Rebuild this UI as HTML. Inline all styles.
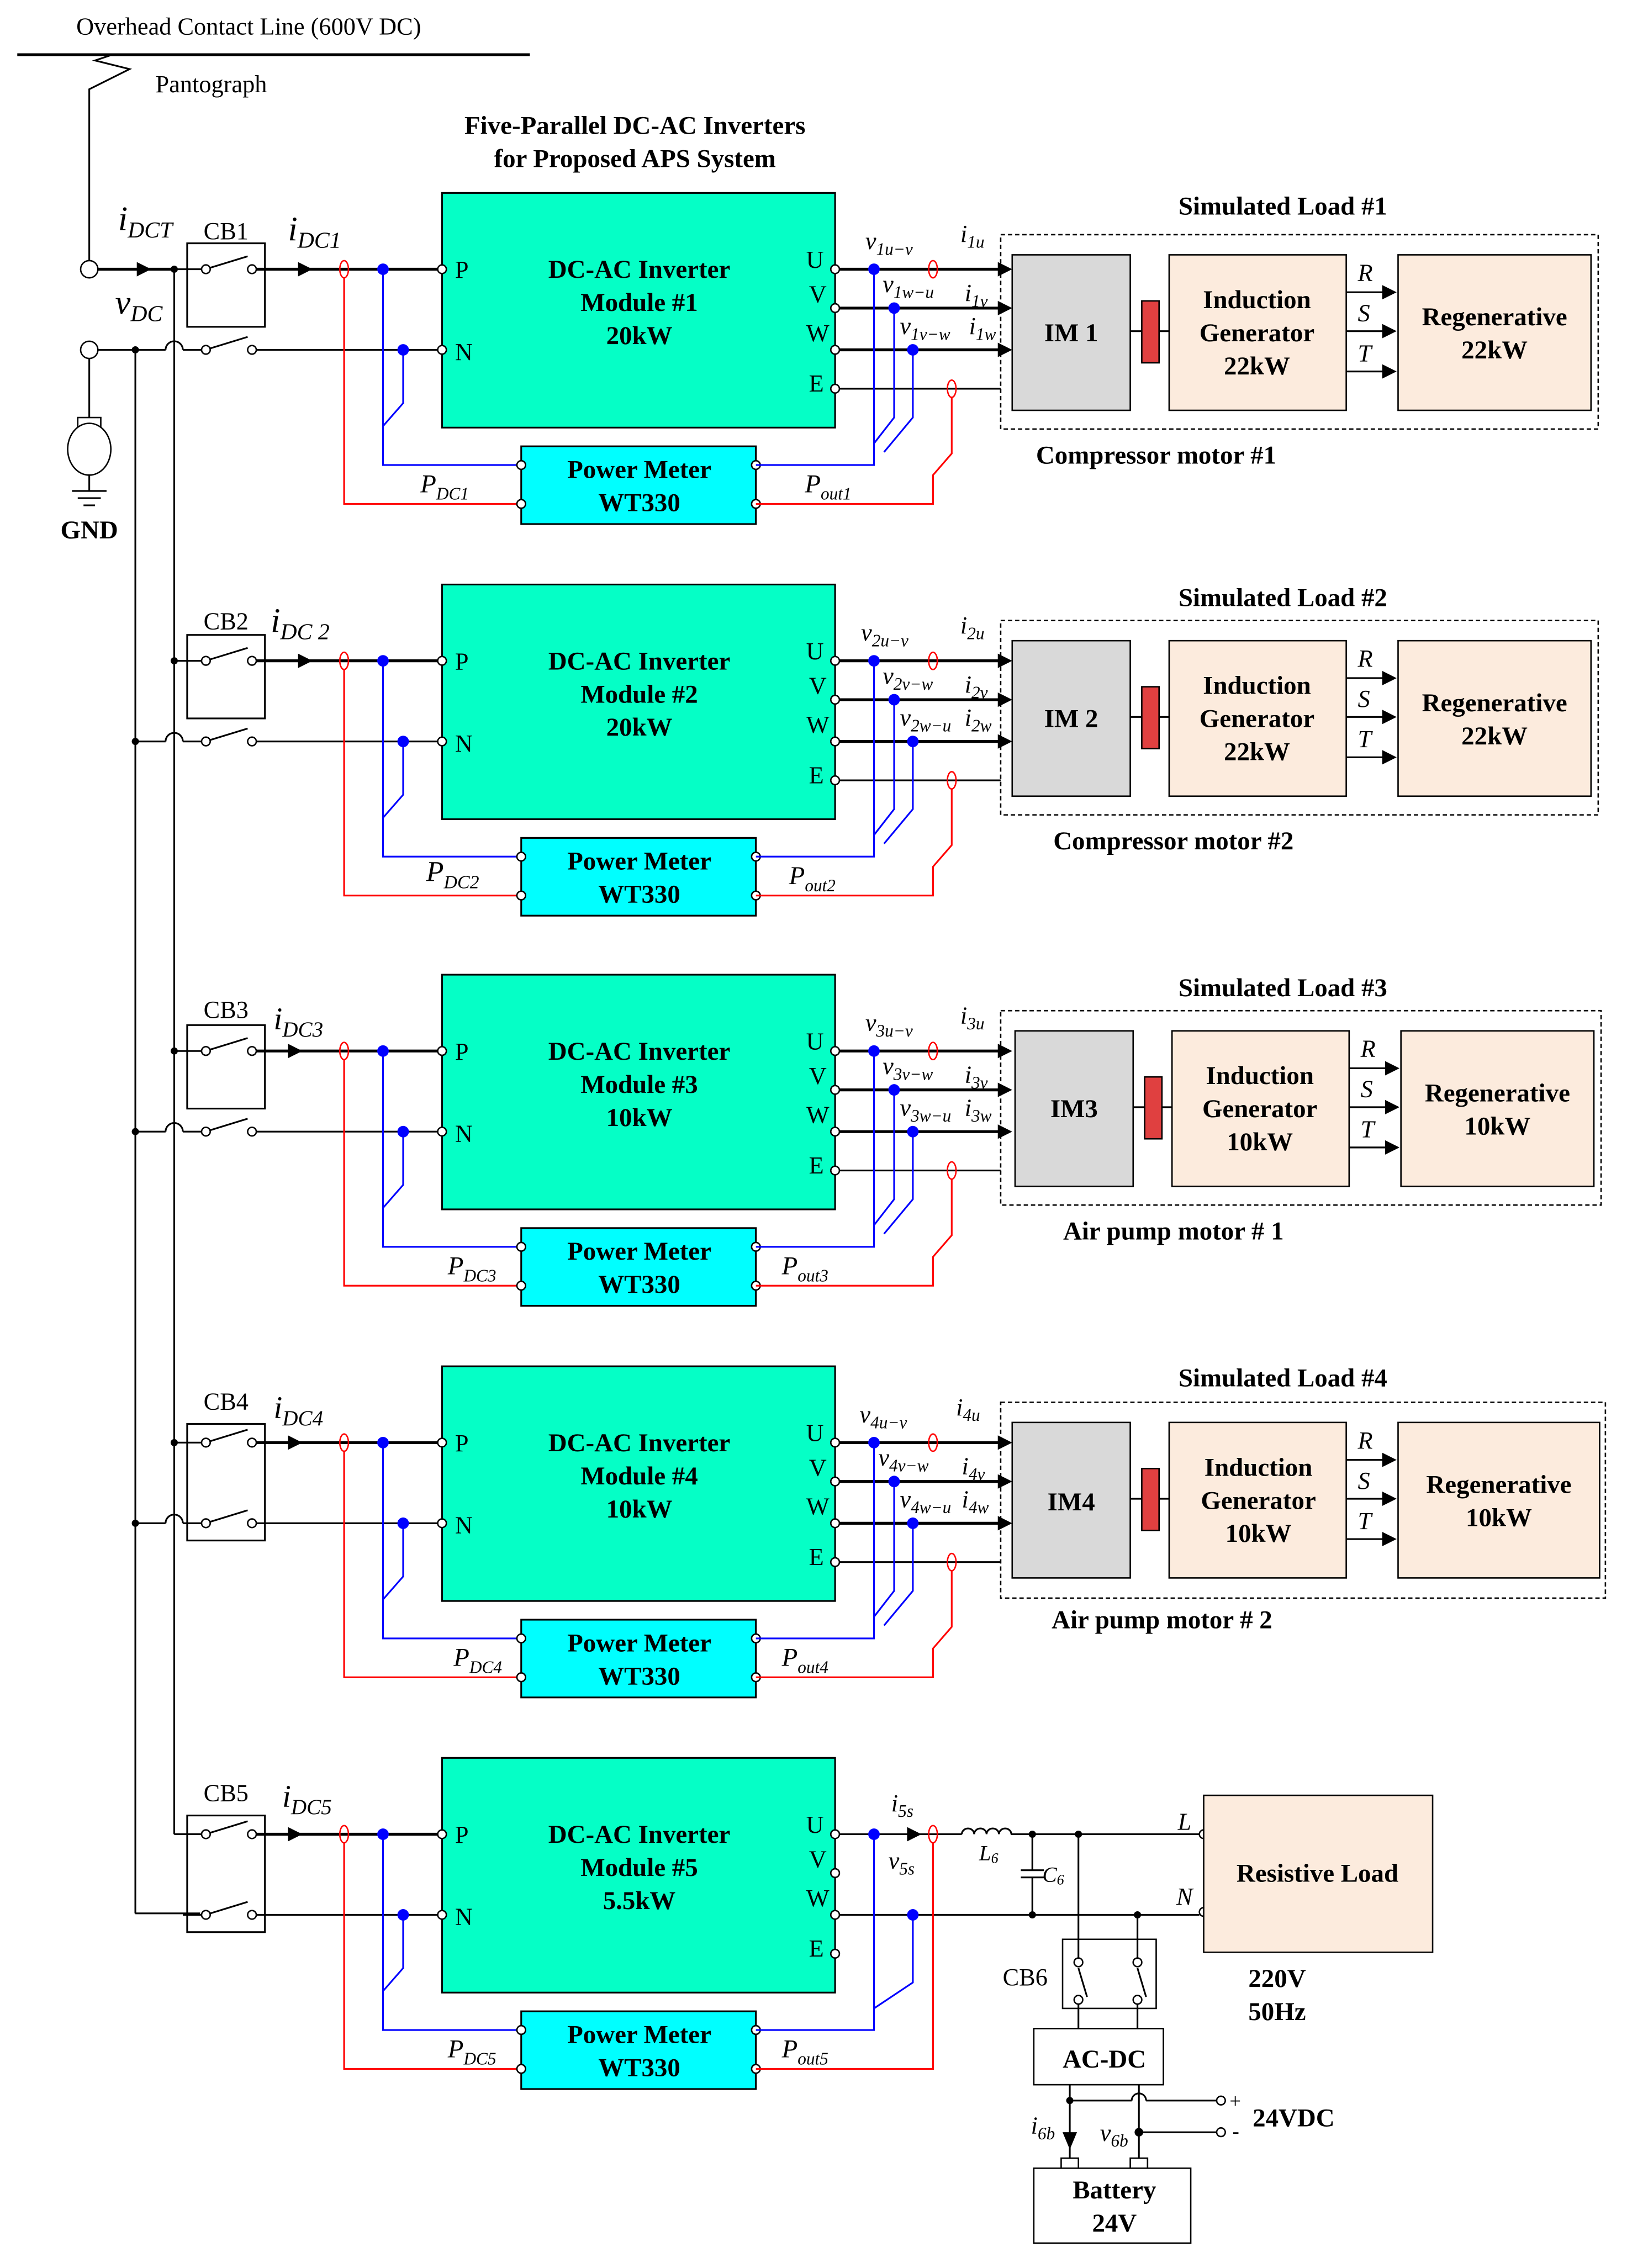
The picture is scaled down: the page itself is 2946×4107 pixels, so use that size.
<!DOCTYPE html>
<html><head><meta charset="utf-8"><style>
html,body{margin:0;padding:0;background:#fff;}
svg{display:block;}
text{font-family:"Liberation Serif",serif;fill:#000;}
.b{font-weight:bold;font-size:18px;text-anchor:middle;}
.bs{font-weight:bold;font-size:18px;text-anchor:start;}
.it{font-style:italic;}
.k{stroke:#000;stroke-width:1.2;fill:none;}
.kt{stroke:#000;stroke-width:2;fill:none;}
.bl{stroke:#0000ff;stroke-width:1.2;fill:none;}
.rd{stroke:#ff0000;stroke-width:1.2;fill:none;}
.tc{fill:#fff;stroke:#000;stroke-width:1;}
</style></head><body>
<svg width="2946" height="4107" viewBox="0 0 1130 1575.3" preserveAspectRatio="none" xmlns="http://www.w3.org/2000/svg">
<defs>
<g id="arrR"><polygon points="0,-5 10,0 0,5" fill="#000"/></g>
</defs>
<!-- top -->
<line x1="12" y1="38" x2="368" y2="38" class="kt"/>
<text x="53" y="24" font-size="17">Overhead Contact Line (600V DC)</text>
<polyline points="62,181 62,62 90,48 66,42 78,38" class="k"/>
<text x="108" y="64" font-size="17">Pantograph</text>
<text x="441" y="93" class="b">Five-Parallel DC-AC Inverters</text>
<text x="441" y="116" class="b">for Proposed APS System</text>
<circle cx="62" cy="187" r="6" class="tc"/>
<circle cx="62" cy="243" r="6" class="tc"/>
<line x1="62" y1="249" x2="62" y2="293" class="k"/>
<rect x="54" y="290" width="16" height="10" class="tc"/>
<ellipse cx="62" cy="312" rx="15" ry="18" class="tc"/>
<line x1="62" y1="330" x2="62" y2="341" class="k"/>
<line x1="50" y1="341" x2="74" y2="341" class="k"/>
<line x1="54" y1="346" x2="70" y2="346" class="k"/>
<line x1="58" y1="351" x2="66" y2="351" class="k"/>
<text x="62" y="374" class="b">GND</text>
<text x="82" y="160" font-size="24" class="it">i<tspan font-size="16" dy="5">DCT</tspan></text>
<text x="80" y="218" font-size="24" class="it">v<tspan font-size="16" dy="5">DC</tspan></text>
<line x1="68" y1="187" x2="121" y2="187" class="kt"/>
<use href="#arrR" x="95" y="187"/>
<line x1="68" y1="243" x2="115" y2="243" class="k"/>
<!-- buses -->
<line x1="121" y1="187" x2="121" y2="1274" class="k"/>
<line x1="121" y1="1274" x2="139" y2="1274" class="k"/>
<line x1="94" y1="243" x2="94" y2="1329" class="k"/>
<line x1="94" y1="1329" x2="139" y2="1329" class="k"/>
<circle cx="121" cy="187" r="2.5"/><circle cx="94" cy="243" r="2.5"/>
<circle cx="121" cy="459" r="2.5"/><circle cx="94" cy="515" r="2.5"/>
<circle cx="121" cy="730" r="2.5"/><circle cx="94" cy="786" r="2.5"/>
<circle cx="121" cy="1002" r="2.5"/><circle cx="94" cy="1058" r="2.5"/>

<!-- SECTION 1 -->
<g id="s1">
<path d="M115,243 A6,6 0 0 1 127,243" class="k"/>
<line x1="127" y1="243" x2="140" y2="243" class="k"/>
<line x1="121" y1="187" x2="140" y2="187" class="k"/>
<rect x="130" y="169" width="54" height="58" class="k"/>
<circle cx="143" cy="187" r="3" class="tc"/><circle cx="175" cy="187" r="3" class="tc"/><line x1="146" y1="186" x2="172" y2="178" class="k"/>
<circle cx="143" cy="243" r="3" class="tc"/><circle cx="175" cy="243" r="3" class="tc"/><line x1="146" y1="242" x2="172" y2="234" class="k"/>
<line x1="178" y1="187" x2="304" y2="187" class="kt"/>
<line x1="178" y1="243" x2="304" y2="243" class="k"/>
<use href="#arrR" x="207" y="187"/>
<rect x="307" y="134" width="273" height="163" fill="#05FFC6" stroke="#000" stroke-width="1.2"/>
<text x="444" y="193" class="b">DC-AC Inverter</text>
<text x="444" y="216" class="b">Module #1</text>
<text x="444" y="239" class="b">20kW</text>
<text x="316" y="193" font-size="17">P</text><text x="316" y="250" font-size="17">N</text>
<text x="566" y="186" font-size="17" text-anchor="middle">U</text><text x="568" y="210" font-size="17" text-anchor="middle">V</text><text x="568" y="237" font-size="17" text-anchor="middle">W</text><text x="567" y="272" font-size="17" text-anchor="middle">E</text>
<ellipse cx="239" cy="187" rx="3" ry="6" fill="none" stroke="#f00"/>
<circle cx="266" cy="187" r="4" fill="#00f"/><circle cx="280" cy="243" r="4" fill="#00f"/>
<polyline points="280,243 280,280 266,296" class="bl"/>
<polyline points="266,187 266,323 362,323" class="bl"/>
<polyline points="239,193 239,350 362,350" class="rd"/>
<rect x="362" y="310" width="163" height="54" fill="#00FFFF" stroke="#000" stroke-width="1.2"/>
<text x="444" y="332" class="b">Power Meter</text><text x="444" y="355" class="b">WT330</text>
<circle cx="362" cy="323" r="3" class="tc"/><circle cx="362" cy="350" r="3" class="tc"/><circle cx="525" cy="323" r="3" class="tc"/><circle cx="525" cy="350" r="3" class="tc"/>
<text x="292" y="342" font-size="18" class="it">P<tspan font-size="12" dy="5">DC1</tspan></text>
<text x="559" y="342" font-size="18" class="it">P<tspan font-size="12" dy="5">out1</tspan></text>
<line x1="583" y1="187" x2="695" y2="187" class="kt"/>
<line x1="583" y1="214" x2="695" y2="214" class="kt"/>
<line x1="583" y1="243" x2="695" y2="243" class="kt"/>
<line x1="583" y1="270" x2="695" y2="270" class="k"/>
<circle cx="307" cy="187" r="3" class="tc"/><circle cx="307" cy="243" r="3" class="tc"/>
<circle cx="580" cy="187" r="3" class="tc"/><circle cx="580" cy="214" r="3" class="tc"/><circle cx="580" cy="243" r="3" class="tc"/><circle cx="580" cy="270" r="3" class="tc"/>
<circle cx="607" cy="187" r="4" fill="#00f"/><circle cx="621" cy="214" r="4" fill="#00f"/><circle cx="634" cy="243" r="4" fill="#00f"/>
<polyline points="607,187 607,323 525,323" class="bl"/>
<polyline points="621,214 621,290 607,308" class="bl"/>
<polyline points="634,243 634,290 614,314" class="bl"/>
<ellipse cx="648" cy="187" rx="3" ry="6" fill="none" stroke="#f00"/>
<ellipse cx="661" cy="270" rx="3" ry="6" fill="none" stroke="#f00"/>
<polyline points="661,276 661,315 648,330 648,350 525,350" class="rd"/>
<text x="601" y="173" font-size="17" class="it">v<tspan font-size="12" dy="4">1u−v</tspan></text>
<text x="613" y="203" font-size="17" class="it">v<tspan font-size="12" dy="4">1w−u</tspan></text>
<text x="625" y="232" font-size="17" class="it">v<tspan font-size="12" dy="4">1v−w</tspan></text>
<text x="667" y="168" font-size="17" class="it">i<tspan font-size="12" dy="4">1u</tspan></text>
<text x="670" y="209" font-size="17" class="it">i<tspan font-size="12" dy="4">1v</tspan></text>
<text x="673" y="232" font-size="17" class="it">i<tspan font-size="12" dy="4">1w</tspan></text>
<use href="#arrR" x="693" y="187"/><use href="#arrR" x="693" y="214"/><use href="#arrR" x="693" y="243"/>
<rect x="695" y="163" width="415" height="135" fill="none" stroke="#000" stroke-dasharray="3,2"/>
<rect x="703" y="177" width="82" height="108" fill="#D9D9D9" stroke="#000"/>
<text x="744" y="237" class="b">IM 1</text>
<line x1="785" y1="230" x2="812" y2="230" class="k"/>
<rect x="793" y="209" width="12" height="43" fill="#E04040" stroke="#000"/>
<rect x="812" y="177" width="123" height="108" fill="#FCEBDD" stroke="#000"/>
<text x="873" y="214" class="b">Induction</text><text x="873" y="237" class="b">Generator</text><text x="873" y="260" class="b">22kW</text>
<line x1="935" y1="203" x2="962" y2="203" class="k"/><use href="#arrR" x="960" y="203"/>
<line x1="935" y1="230" x2="962" y2="230" class="k"/><use href="#arrR" x="960" y="230"/>
<line x1="935" y1="258" x2="962" y2="258" class="k"/><use href="#arrR" x="960" y="258"/>
<text x="943" y="195" font-size="17" class="it">R</text><text x="943" y="223" font-size="17" class="it">S</text><text x="943" y="251" font-size="17" class="it">T</text>
<rect x="971" y="177" width="134" height="108" fill="#FCEBDD" stroke="#000"/>
<text x="1038" y="226" class="b">Regenerative</text><text x="1038" y="249" class="b">22kW</text>
<text x="891" y="149" class="b">Simulated Load #1</text>
<text x="803" y="322" class="b">Compressor motor #1</text>
</g>
<text x="157" y="166" font-size="17" text-anchor="middle">CB1</text>
<text x="200" y="167" font-size="24" class="it">i<tspan font-size="16" dy="5">DC1</tspan></text>

<!-- SECTION 2 -->
<g transform="translate(0,272)">
<path d="M115,243 A6,6 0 0 1 127,243" class="k"/>
<line x1="94" y1="243" x2="115" y2="243" class="k"/>
<line x1="127" y1="243" x2="140" y2="243" class="k"/>
<line x1="121" y1="187" x2="140" y2="187" class="k"/>
<rect x="130" y="169" width="54" height="58" class="k"/>
<circle cx="143" cy="187" r="3" class="tc"/><circle cx="175" cy="187" r="3" class="tc"/><line x1="146" y1="186" x2="172" y2="178" class="k"/>
<circle cx="143" cy="243" r="3" class="tc"/><circle cx="175" cy="243" r="3" class="tc"/><line x1="146" y1="242" x2="172" y2="234" class="k"/>
<line x1="178" y1="187" x2="304" y2="187" class="kt"/>
<line x1="178" y1="243" x2="304" y2="243" class="k"/>
<use href="#arrR" x="207" y="187"/>
<text x="157" y="165" font-size="17" text-anchor="middle">CB2</text>
<text x="188" y="167" font-size="24" class="it">i<tspan font-size="16" dy="5">DC 2</tspan></text>
<rect x="307" y="134" width="273" height="163" fill="#05FFC6" stroke="#000" stroke-width="1.2"/>
<text x="444" y="193" class="b">DC-AC Inverter</text>
<text x="444" y="216" class="b">Module #2</text>
<text x="444" y="239" class="b">20kW</text>
<text x="316" y="193" font-size="17">P</text><text x="316" y="250" font-size="17">N</text>
<text x="566" y="186" font-size="17" text-anchor="middle">U</text><text x="568" y="210" font-size="17" text-anchor="middle">V</text><text x="568" y="237" font-size="17" text-anchor="middle">W</text><text x="567" y="272" font-size="17" text-anchor="middle">E</text>
<ellipse cx="239" cy="187" rx="3" ry="6" fill="none" stroke="#f00"/>
<circle cx="266" cy="187" r="4" fill="#00f"/><circle cx="280" cy="243" r="4" fill="#00f"/>
<polyline points="280,243 280,280 266,296" class="bl"/>
<polyline points="266,187 266,323 362,323" class="bl"/>
<polyline points="239,193 239,350 362,350" class="rd"/>
<rect x="362" y="310" width="163" height="54" fill="#00FFFF" stroke="#000" stroke-width="1.2"/>
<text x="444" y="332" class="b">Power Meter</text><text x="444" y="355" class="b">WT330</text>
<circle cx="362" cy="323" r="3" class="tc"/><circle cx="362" cy="350" r="3" class="tc"/><circle cx="525" cy="323" r="3" class="tc"/><circle cx="525" cy="350" r="3" class="tc"/>
<text x="296" y="340" font-size="20" class="it">P<tspan font-size="13" dy="5">DC2</tspan></text>
<text x="548" y="342" font-size="18" class="it">P<tspan font-size="12" dy="5">out2</tspan></text>
<line x1="583" y1="187" x2="695" y2="187" class="kt"/>
<line x1="583" y1="214" x2="695" y2="214" class="kt"/>
<line x1="583" y1="243" x2="695" y2="243" class="kt"/>
<line x1="583" y1="270" x2="695" y2="270" class="k"/>
<circle cx="307" cy="187" r="3" class="tc"/><circle cx="307" cy="243" r="3" class="tc"/>
<circle cx="580" cy="187" r="3" class="tc"/><circle cx="580" cy="214" r="3" class="tc"/><circle cx="580" cy="243" r="3" class="tc"/><circle cx="580" cy="270" r="3" class="tc"/>
<circle cx="607" cy="187" r="4" fill="#00f"/><circle cx="621" cy="214" r="4" fill="#00f"/><circle cx="634" cy="243" r="4" fill="#00f"/>
<polyline points="607,187 607,323 525,323" class="bl"/>
<polyline points="621,214 621,290 607,308" class="bl"/>
<polyline points="634,243 634,290 614,314" class="bl"/>
<ellipse cx="648" cy="187" rx="3" ry="6" fill="none" stroke="#f00"/>
<ellipse cx="661" cy="270" rx="3" ry="6" fill="none" stroke="#f00"/>
<polyline points="661,276 661,315 648,330 648,350 525,350" class="rd"/>
<text x="598" y="173" font-size="17" class="it">v<tspan font-size="12" dy="4">2u−v</tspan></text>
<text x="613" y="203" font-size="17" class="it">v<tspan font-size="12" dy="4">2v−w</tspan></text>
<text x="625" y="232" font-size="17" class="it">v<tspan font-size="12" dy="4">2w−u</tspan></text>
<text x="667" y="168" font-size="17" class="it">i<tspan font-size="12" dy="4">2u</tspan></text>
<text x="670" y="209" font-size="17" class="it">i<tspan font-size="12" dy="4">2v</tspan></text>
<text x="670" y="232" font-size="17" class="it">i<tspan font-size="12" dy="4">2w</tspan></text>
<use href="#arrR" x="693" y="187"/><use href="#arrR" x="693" y="214"/><use href="#arrR" x="693" y="243"/>
<rect x="695" y="159" width="415" height="135" fill="none" stroke="#000" stroke-dasharray="3,2"/>
<rect x="703" y="173" width="82" height="108" fill="#D9D9D9" stroke="#000"/>
<text x="744" y="233" class="b">IM 2</text>
<line x1="785" y1="226" x2="812" y2="226" class="k"/>
<rect x="793" y="205" width="12" height="43" fill="#E04040" stroke="#000"/>
<rect x="812" y="173" width="123" height="108" fill="#FCEBDD" stroke="#000"/>
<text x="873" y="210" class="b">Induction</text><text x="873" y="233" class="b">Generator</text><text x="873" y="256" class="b">22kW</text>
<line x1="935" y1="199" x2="962" y2="199" class="k"/><use href="#arrR" x="960" y="199"/>
<line x1="935" y1="226" x2="962" y2="226" class="k"/><use href="#arrR" x="960" y="226"/>
<line x1="935" y1="254" x2="962" y2="254" class="k"/><use href="#arrR" x="960" y="254"/>
<text x="943" y="191" font-size="17" class="it">R</text><text x="943" y="219" font-size="17" class="it">S</text><text x="943" y="247" font-size="17" class="it">T</text>
<rect x="971" y="173" width="134" height="108" fill="#FCEBDD" stroke="#000"/>
<text x="1038" y="222" class="b">Regenerative</text><text x="1038" y="245" class="b">22kW</text>
<text x="891" y="149" class="b">Simulated Load #2</text>
<text x="815" y="318" class="b">Compressor motor #2</text>
</g>

<!-- SECTION 3 -->
<g transform="translate(0,543)">
<path d="M115,243 A6,6 0 0 1 127,243" class="k"/>
<line x1="94" y1="243" x2="115" y2="243" class="k"/>
<line x1="127" y1="243" x2="140" y2="243" class="k"/>
<line x1="121" y1="187" x2="140" y2="187" class="k"/>
<rect x="130" y="169" width="54" height="58" class="k"/>
<circle cx="143" cy="187" r="3" class="tc"/><circle cx="175" cy="187" r="3" class="tc"/><line x1="146" y1="186" x2="172" y2="178" class="k"/>
<circle cx="143" cy="243" r="3" class="tc"/><circle cx="175" cy="243" r="3" class="tc"/><line x1="146" y1="242" x2="172" y2="234" class="k"/>
<line x1="178" y1="187" x2="304" y2="187" class="kt"/>
<line x1="178" y1="243" x2="304" y2="243" class="k"/>
<use href="#arrR" x="200" y="187"/>
<text x="157" y="164" font-size="17" text-anchor="middle">CB3</text>
<text x="190" y="172" font-size="22" class="it">i<tspan font-size="15" dy="5">DC3</tspan></text>
<rect x="307" y="134" width="273" height="163" fill="#05FFC6" stroke="#000" stroke-width="1.2"/>
<text x="444" y="193" class="b">DC-AC Inverter</text>
<text x="444" y="216" class="b">Module #3</text>
<text x="444" y="239" class="b">10kW</text>
<text x="316" y="193" font-size="17">P</text><text x="316" y="250" font-size="17">N</text>
<text x="566" y="186" font-size="17" text-anchor="middle">U</text><text x="568" y="210" font-size="17" text-anchor="middle">V</text><text x="568" y="237" font-size="17" text-anchor="middle">W</text><text x="567" y="272" font-size="17" text-anchor="middle">E</text>
<ellipse cx="239" cy="187" rx="3" ry="6" fill="none" stroke="#f00"/>
<circle cx="266" cy="187" r="4" fill="#00f"/><circle cx="280" cy="243" r="4" fill="#00f"/>
<polyline points="280,243 280,280 266,296" class="bl"/>
<polyline points="266,187 266,323 362,323" class="bl"/>
<polyline points="239,193 239,350 362,350" class="rd"/>
<rect x="362" y="310" width="163" height="54" fill="#00FFFF" stroke="#000" stroke-width="1.2"/>
<text x="444" y="332" class="b">Power Meter</text><text x="444" y="355" class="b">WT330</text>
<circle cx="362" cy="323" r="3" class="tc"/><circle cx="362" cy="350" r="3" class="tc"/><circle cx="525" cy="323" r="3" class="tc"/><circle cx="525" cy="350" r="3" class="tc"/>
<text x="311" y="342" font-size="18" class="it">P<tspan font-size="12" dy="5">DC3</tspan></text>
<text x="543" y="342" font-size="18" class="it">P<tspan font-size="12" dy="5">out3</tspan></text>
<line x1="583" y1="187" x2="695" y2="187" class="kt"/>
<line x1="583" y1="214" x2="695" y2="214" class="kt"/>
<line x1="583" y1="243" x2="695" y2="243" class="kt"/>
<line x1="583" y1="270" x2="695" y2="270" class="k"/>
<circle cx="307" cy="187" r="3" class="tc"/><circle cx="307" cy="243" r="3" class="tc"/>
<circle cx="580" cy="187" r="3" class="tc"/><circle cx="580" cy="214" r="3" class="tc"/><circle cx="580" cy="243" r="3" class="tc"/><circle cx="580" cy="270" r="3" class="tc"/>
<circle cx="607" cy="187" r="4" fill="#00f"/><circle cx="621" cy="214" r="4" fill="#00f"/><circle cx="634" cy="243" r="4" fill="#00f"/>
<polyline points="607,187 607,323 525,323" class="bl"/>
<polyline points="621,214 621,290 607,308" class="bl"/>
<polyline points="634,243 634,290 614,314" class="bl"/>
<ellipse cx="648" cy="187" rx="3" ry="6" fill="none" stroke="#f00"/>
<ellipse cx="661" cy="270" rx="3" ry="6" fill="none" stroke="#f00"/>
<polyline points="661,276 661,315 648,330 648,350 525,350" class="rd"/>
<text x="601" y="173" font-size="17" class="it">v<tspan font-size="12" dy="4">3u−v</tspan></text>
<text x="613" y="203" font-size="17" class="it">v<tspan font-size="12" dy="4">3v−w</tspan></text>
<text x="625" y="232" font-size="17" class="it">v<tspan font-size="12" dy="4">3w−u</tspan></text>
<text x="667" y="168" font-size="17" class="it">i<tspan font-size="12" dy="4">3u</tspan></text>
<text x="670" y="209" font-size="17" class="it">i<tspan font-size="12" dy="4">3v</tspan></text>
<text x="670" y="232" font-size="17" class="it">i<tspan font-size="12" dy="4">3w</tspan></text>
<use href="#arrR" x="693" y="187"/><use href="#arrR" x="693" y="214"/><use href="#arrR" x="693" y="243"/>
<rect x="695" y="159" width="417" height="135" fill="none" stroke="#000" stroke-dasharray="3,2"/>
<rect x="705" y="173" width="82" height="108" fill="#D9D9D9" stroke="#000"/>
<text x="746" y="233" class="b">IM3</text>
<line x1="787" y1="226" x2="814" y2="226" class="k"/>
<rect x="795" y="205" width="12" height="43" fill="#E04040" stroke="#000"/>
<rect x="814" y="173" width="123" height="108" fill="#FCEBDD" stroke="#000"/>
<text x="875" y="210" class="b">Induction</text><text x="875" y="233" class="b">Generator</text><text x="875" y="256" class="b">10kW</text>
<line x1="937" y1="199" x2="964" y2="199" class="k"/><use href="#arrR" x="962" y="199"/>
<line x1="937" y1="226" x2="964" y2="226" class="k"/><use href="#arrR" x="962" y="226"/>
<line x1="937" y1="254" x2="964" y2="254" class="k"/><use href="#arrR" x="962" y="254"/>
<text x="945" y="191" font-size="17" class="it">R</text><text x="945" y="219" font-size="17" class="it">S</text><text x="945" y="247" font-size="17" class="it">T</text>
<rect x="973" y="173" width="134" height="108" fill="#FCEBDD" stroke="#000"/>
<text x="1040" y="222" class="b">Regenerative</text><text x="1040" y="245" class="b">10kW</text>
<text x="891" y="149" class="b">Simulated Load #3</text>
<text x="815" y="318" class="b">Air pump motor # 1</text>
</g>

<!-- SECTION 4 -->
<g transform="translate(0,815)">
<path d="M115,243 A6,6 0 0 1 127,243" class="k"/>
<line x1="94" y1="243" x2="115" y2="243" class="k"/>
<line x1="127" y1="243" x2="140" y2="243" class="k"/>
<line x1="121" y1="187" x2="140" y2="187" class="k"/>
<rect x="130" y="174" width="54" height="81" class="k"/>
<circle cx="143" cy="187" r="3" class="tc"/><circle cx="175" cy="187" r="3" class="tc"/><line x1="146" y1="186" x2="172" y2="178" class="k"/>
<circle cx="143" cy="243" r="3" class="tc"/><circle cx="175" cy="243" r="3" class="tc"/><line x1="146" y1="242" x2="172" y2="234" class="k"/>
<line x1="178" y1="187" x2="304" y2="187" class="kt"/>
<line x1="178" y1="243" x2="304" y2="243" class="k"/>
<use href="#arrR" x="200" y="187"/>
<text x="157" y="164" font-size="17" text-anchor="middle">CB4</text>
<text x="190" y="170" font-size="22" class="it">i<tspan font-size="15" dy="5">DC4</tspan></text>
<rect x="307" y="134" width="273" height="163" fill="#05FFC6" stroke="#000" stroke-width="1.2"/>
<text x="444" y="193" class="b">DC-AC Inverter</text>
<text x="444" y="216" class="b">Module #4</text>
<text x="444" y="239" class="b">10kW</text>
<text x="316" y="193" font-size="17">P</text><text x="316" y="250" font-size="17">N</text>
<text x="566" y="186" font-size="17" text-anchor="middle">U</text><text x="568" y="210" font-size="17" text-anchor="middle">V</text><text x="568" y="237" font-size="17" text-anchor="middle">W</text><text x="567" y="272" font-size="17" text-anchor="middle">E</text>
<ellipse cx="239" cy="187" rx="3" ry="6" fill="none" stroke="#f00"/>
<circle cx="266" cy="187" r="4" fill="#00f"/><circle cx="280" cy="243" r="4" fill="#00f"/>
<polyline points="280,243 280,280 266,296" class="bl"/>
<polyline points="266,187 266,323 362,323" class="bl"/>
<polyline points="239,193 239,350 362,350" class="rd"/>
<rect x="362" y="310" width="163" height="54" fill="#00FFFF" stroke="#000" stroke-width="1.2"/>
<text x="444" y="332" class="b">Power Meter</text><text x="444" y="355" class="b">WT330</text>
<circle cx="362" cy="323" r="3" class="tc"/><circle cx="362" cy="350" r="3" class="tc"/><circle cx="525" cy="323" r="3" class="tc"/><circle cx="525" cy="350" r="3" class="tc"/>
<text x="315" y="342" font-size="18" class="it">P<tspan font-size="12" dy="5">DC4</tspan></text>
<text x="543" y="342" font-size="18" class="it">P<tspan font-size="12" dy="5">out4</tspan></text>
<line x1="583" y1="187" x2="695" y2="187" class="kt"/>
<line x1="583" y1="214" x2="695" y2="214" class="kt"/>
<line x1="583" y1="243" x2="695" y2="243" class="kt"/>
<line x1="583" y1="270" x2="695" y2="270" class="k"/>
<circle cx="307" cy="187" r="3" class="tc"/><circle cx="307" cy="243" r="3" class="tc"/>
<circle cx="580" cy="187" r="3" class="tc"/><circle cx="580" cy="214" r="3" class="tc"/><circle cx="580" cy="243" r="3" class="tc"/><circle cx="580" cy="270" r="3" class="tc"/>
<circle cx="607" cy="187" r="4" fill="#00f"/><circle cx="621" cy="214" r="4" fill="#00f"/><circle cx="634" cy="243" r="4" fill="#00f"/>
<polyline points="607,187 607,323 525,323" class="bl"/>
<polyline points="621,214 621,290 607,308" class="bl"/>
<polyline points="634,243 634,290 614,314" class="bl"/>
<ellipse cx="648" cy="187" rx="3" ry="6" fill="none" stroke="#f00"/>
<ellipse cx="661" cy="270" rx="3" ry="6" fill="none" stroke="#f00"/>
<polyline points="661,276 661,315 648,330 648,350 525,350" class="rd"/>
<text x="597" y="173" font-size="17" class="it">v<tspan font-size="12" dy="4">4u−v</tspan></text>
<text x="610" y="203" font-size="17" class="it">v<tspan font-size="12" dy="4">4v−w</tspan></text>
<text x="625" y="232" font-size="17" class="it">v<tspan font-size="12" dy="4">4w−u</tspan></text>
<text x="664" y="168" font-size="17" class="it">i<tspan font-size="12" dy="4">4u</tspan></text>
<text x="668" y="209" font-size="17" class="it">i<tspan font-size="12" dy="4">4v</tspan></text>
<text x="668" y="232" font-size="17" class="it">i<tspan font-size="12" dy="4">4w</tspan></text>
<use href="#arrR" x="693" y="187"/><use href="#arrR" x="693" y="214"/><use href="#arrR" x="693" y="243"/>
<rect x="695" y="159" width="420" height="136" fill="none" stroke="#000" stroke-dasharray="3,2"/>
<rect x="703" y="173" width="82" height="108" fill="#D9D9D9" stroke="#000"/>
<text x="744" y="234" class="b">IM4</text>
<line x1="785" y1="226" x2="812" y2="226" class="k"/>
<rect x="793" y="205" width="12" height="43" fill="#E04040" stroke="#000"/>
<rect x="812" y="173" width="123" height="108" fill="#FCEBDD" stroke="#000"/>
<text x="874" y="210" class="b">Induction</text><text x="874" y="233" class="b">Generator</text><text x="874" y="256" class="b">10kW</text>
<line x1="935" y1="199" x2="962" y2="199" class="k"/><use href="#arrR" x="960" y="199"/>
<line x1="935" y1="226" x2="962" y2="226" class="k"/><use href="#arrR" x="960" y="226"/>
<line x1="935" y1="254" x2="962" y2="254" class="k"/><use href="#arrR" x="960" y="254"/>
<text x="943" y="191" font-size="17" class="it">R</text><text x="943" y="219" font-size="17" class="it">S</text><text x="943" y="247" font-size="17" class="it">T</text>
<rect x="971" y="173" width="140" height="108" fill="#FCEBDD" stroke="#000"/>
<text x="1041" y="222" class="b">Regenerative</text><text x="1041" y="245" class="b">10kW</text>
<text x="891" y="148" class="b">Simulated Load #4</text>
<text x="807" y="316" class="b">Air pump motor # 2</text>
</g>

<!-- SECTION 5 -->
<g transform="translate(0,1087)">
<line x1="121" y1="187" x2="140" y2="187" class="k"/>
<line x1="127" y1="243" x2="140" y2="243" class="k"/>
<rect x="130" y="174" width="54" height="81" class="k"/>
<circle cx="143" cy="187" r="3" class="tc"/><circle cx="175" cy="187" r="3" class="tc"/><line x1="146" y1="186" x2="172" y2="178" class="k"/>
<circle cx="143" cy="243" r="3" class="tc"/><circle cx="175" cy="243" r="3" class="tc"/><line x1="146" y1="242" x2="172" y2="234" class="k"/>
<line x1="178" y1="187" x2="304" y2="187" class="kt"/>
<line x1="178" y1="243" x2="304" y2="243" class="k"/>
<use href="#arrR" x="200" y="187"/>
<text x="157" y="164" font-size="17" text-anchor="middle">CB5</text>
<text x="196" y="168" font-size="22" class="it">i<tspan font-size="15" dy="5">DC5</tspan></text>
<rect x="307" y="134" width="273" height="163" fill="#05FFC6" stroke="#000" stroke-width="1.2"/>
<text x="444" y="193" class="b">DC-AC Inverter</text>
<text x="444" y="216" class="b">Module #5</text>
<text x="444" y="239" class="b">5.5kW</text>
<text x="316" y="193" font-size="17">P</text><text x="316" y="250" font-size="17">N</text>
<text x="566" y="186" font-size="17" text-anchor="middle">U</text><text x="568" y="210" font-size="17" text-anchor="middle">V</text><text x="568" y="237" font-size="17" text-anchor="middle">W</text><text x="567" y="272" font-size="17" text-anchor="middle">E</text>
<ellipse cx="239" cy="187" rx="3" ry="6" fill="none" stroke="#f00"/>
<circle cx="266" cy="187" r="4" fill="#00f"/><circle cx="280" cy="243" r="4" fill="#00f"/>
<polyline points="280,243 280,280 266,296" class="bl"/>
<polyline points="266,187 266,323 362,323" class="bl"/>
<polyline points="239,193 239,350 362,350" class="rd"/>
<rect x="362" y="310" width="163" height="54" fill="#00FFFF" stroke="#000" stroke-width="1.2"/>
<text x="444" y="332" class="b">Power Meter</text><text x="444" y="355" class="b">WT330</text>
<circle cx="362" cy="323" r="3" class="tc"/><circle cx="362" cy="350" r="3" class="tc"/><circle cx="525" cy="323" r="3" class="tc"/><circle cx="525" cy="350" r="3" class="tc"/>
<text x="311" y="342" font-size="18" class="it">P<tspan font-size="12" dy="5">DC5</tspan></text>
<text x="543" y="342" font-size="18" class="it">P<tspan font-size="12" dy="5">out5</tspan></text>
<line x1="583" y1="187" x2="668" y2="187" class="k"/>
<path d="M668,187 a4.3,4 0 0 1 8.6,0 a4.3,4 0 0 1 8.6,0 a4.3,4 0 0 1 8.6,0 a4.3,4 0 0 1 8.6,0" class="k"/>
<line x1="702" y1="187" x2="833" y2="187" class="k"/>
<line x1="583" y1="243" x2="833" y2="243" class="k"/>
<line x1="717" y1="187" x2="717" y2="212" class="k"/><line x1="709" y1="212" x2="725" y2="212" class="k"/><line x1="709" y1="217" x2="725" y2="217" class="k"/><line x1="717" y1="217" x2="717" y2="243" class="k"/>
<text x="680" y="205" font-size="15" class="it">L<tspan font-size="10" dy="2">6</tspan></text>
<text x="724" y="220" font-size="15" class="it">C<tspan font-size="10" dy="2">6</tspan></text>
<circle cx="717" cy="187" r="2.5"/><circle cx="749" cy="187" r="2.5"/><circle cx="717" cy="243" r="2.5"/><circle cx="790" cy="243" r="2.5"/>
<circle cx="307" cy="187" r="3" class="tc"/><circle cx="307" cy="243" r="3" class="tc"/>
<circle cx="580" cy="187" r="3" class="tc"/><circle cx="580" cy="214" r="3" class="tc"/><circle cx="580" cy="243" r="3" class="tc"/><circle cx="580" cy="270" r="3" class="tc"/>
<circle cx="607" cy="187" r="4" fill="#00f"/><circle cx="634" cy="243" r="4" fill="#00f"/>
<polyline points="607,187 607,323 525,323" class="bl"/>
<polyline points="634,243 634,290 607,308" class="bl"/>
<use href="#arrR" x="630" y="187"/>
<ellipse cx="648" cy="187" rx="3" ry="6" fill="none" stroke="#f00"/>
<polyline points="648,193 648,350 525,350" class="rd"/>
<text x="619" y="171" font-size="17" class="it">i<tspan font-size="12" dy="4">5s</tspan></text>
<text x="617" y="211" font-size="17" class="it">v<tspan font-size="12" dy="4">5s</tspan></text>
<circle cx="836" cy="187" r="3" class="tc"/><circle cx="836" cy="241" r="3" class="tc"/>
<text x="818" y="184" font-size="17" class="it">L</text>
<text x="817" y="236" font-size="17" class="it">N</text>
<rect x="836" y="160" width="159" height="109" fill="#FCEBDD" stroke="#000"/>
<text x="915" y="220" class="b">Resistive Load</text>
<text x="887" y="293" class="b">220V</text><text x="887" y="316" class="b">50Hz</text>
<line x1="749" y1="187" x2="749" y2="275" class="k"/><line x1="790" y1="243" x2="790" y2="275" class="k"/>
<rect x="738" y="260" width="65" height="48" fill="none" stroke="#000"/>
<circle cx="749" cy="276" r="3" class="tc"/><circle cx="790" cy="276" r="3" class="tc"/>
<line x1="749" y1="280" x2="755" y2="300" class="k"/><line x1="790" y1="280" x2="796" y2="300" class="k"/>
<circle cx="749" cy="302" r="3" class="tc"/><circle cx="790" cy="302" r="3" class="tc"/>
<line x1="749" y1="305" x2="749" y2="322" class="k"/><line x1="790" y1="305" x2="790" y2="322" class="k"/>
<text x="712" y="292" font-size="17" text-anchor="middle">CB6</text>
<rect x="718" y="322" width="90" height="39" fill="#fff" stroke="#000"/>
<text x="767" y="349" class="b">AC-DC</text>
<line x1="743" y1="361" x2="743" y2="412" class="k"/>
<line x1="791" y1="361" x2="791" y2="418" class="k"/>
<line x1="743" y1="372" x2="786" y2="372" class="k"/>
<path d="M786,372 A5,5 0 0 1 796,372" class="k"/>
<line x1="796" y1="372" x2="845" y2="372" class="k"/>
<line x1="791" y1="394" x2="845" y2="394" class="k"/>
<circle cx="743" cy="372" r="2.5"/><circle cx="791" cy="394" r="3"/>
<circle cx="848" cy="372" r="3" class="tc"/><circle cx="848" cy="394" r="3" class="tc"/>
<text x="854" y="377" font-size="14">+</text><text x="856" y="398" font-size="14">-</text>
<text x="870" y="390" class="bs">24VDC</text>
<polygon points="738,394 748,394 743,406" fill="#000"/>
<text x="716" y="395" font-size="17" class="it">i<tspan font-size="12" dy="4">6b</tspan></text>
<text x="764" y="400" font-size="17" class="it">v<tspan font-size="12" dy="4">6b</tspan></text>
<rect x="737" y="412" width="12" height="7" fill="#fff" stroke="#000"/>
<rect x="785" y="412" width="12" height="7" fill="#fff" stroke="#000"/>
<rect x="718" y="419" width="109" height="52" fill="#fff" stroke="#000"/>
<text x="774" y="440" class="b">Battery</text><text x="774" y="463" class="b">24V</text>
</g>
</svg>
</body></html>
